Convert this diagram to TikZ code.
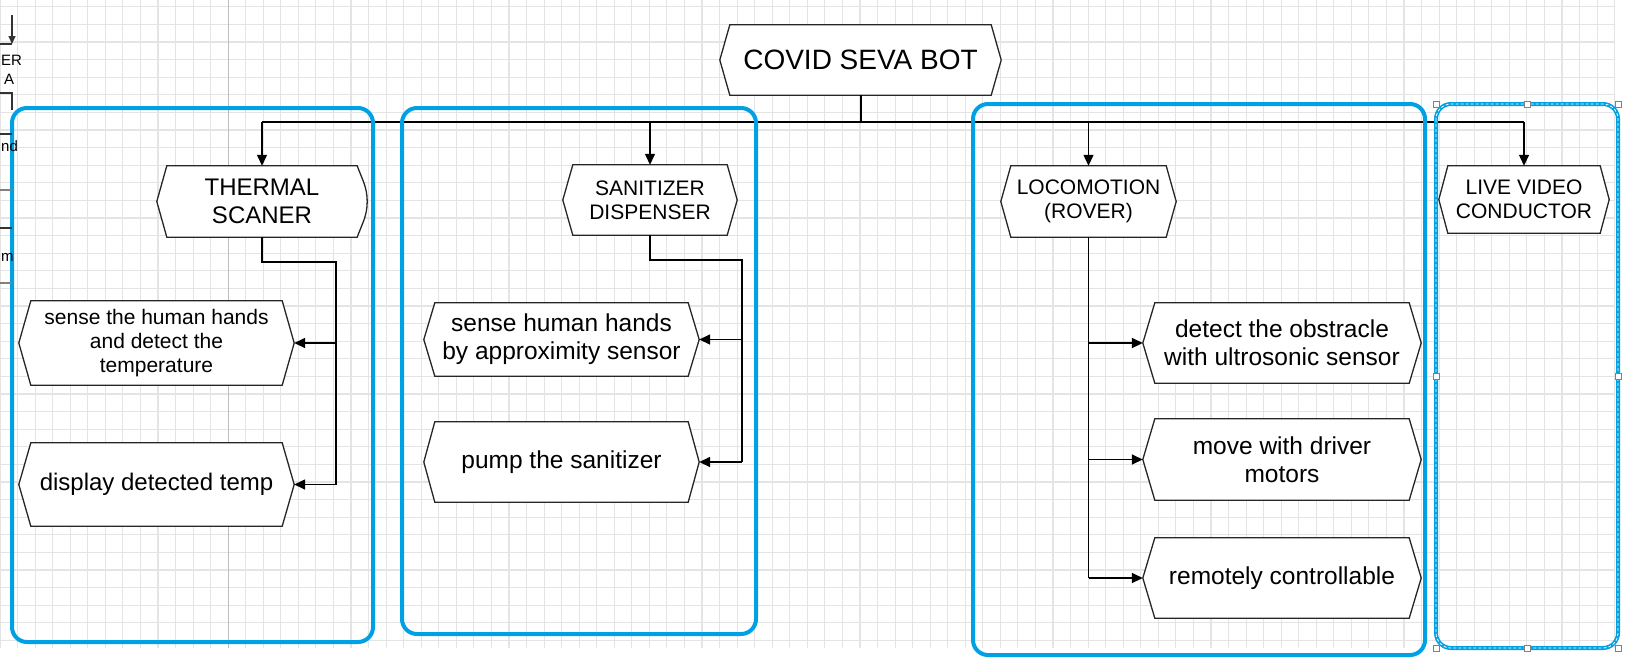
\documentclass[tikz,border=0pt]{standalone}
\usepackage{fontspec}
\setmainfont{Liberation Sans}
\usetikzlibrary{arrows.meta}
\pgfdeclarelayer{gridlayer}
\pgfdeclarelayer{shapelayer}
\pgfsetlayers{gridlayer,shapelayer,main}
\definecolor{bluebox}{RGB}{0,160,228}
\definecolor{gridc}{RGB}{228,228,228}
\definecolor{gridmaj}{RGB}{190,190,190}
\tikzset{
  hexbox/.style={draw=none, inner sep=0pt, align=center, text=black},
  fbig/.style={font=\fontsize{24.5}{28}\selectfont},
  fsmall/.style={font=\fontsize{21}{24}\selectfont},
  ftitle/.style={font=\fontsize{28}{32}\selectfont},
  fmid/.style={font=\fontsize{24}{28}\selectfont},
  ffrag/.style={font=\fontsize{15}{18}\selectfont, inner sep=0pt, anchor=west},
  outline/.style={draw=black!85, fill=white, line width=1.3pt, line join=miter},
  groupbox/.style={draw=bluebox, line width=4pt, rounded corners=15pt},
  conn/.style={draw=black, line width=1.6pt},
  thinconn/.style={draw=black, line width=1.2pt},
  arr/.style={conn, -{Triangle[length=11pt,width=10pt]}},
  fragline/.style={draw=black!80, line width=1.2pt},
  handle/.style={draw=gray, fill=white, line width=0.8pt},
}
\newcommand\hexpath[2]{%
  \draw[outline] (#1.west) -- ([xshift=#2pt]#1.north west) -- ([xshift=-#2pt]#1.north east)
    -- (#1.east) -- ([xshift=-#2pt]#1.south east) -- ([xshift=#2pt]#1.south west) -- cycle;}
\begin{document}
\begin{tikzpicture}[x=1pt, y=-1pt]
\useasboundingbox (0,0) rectangle (1632,670);
\begin{scope}
\clip (0,0) rectangle (1632,670);
% grid
\begin{pgfonlayer}{gridlayer}
  \foreach \i in {0,...,92} \draw[gridc, line width=1.1pt] ({\i*17.55},0) -- ({\i*17.55},648);
  \foreach \j in {0,...,36} \draw[gridc, line width=1.1pt] (0,{6.8+\j*17.6}) -- (1614,{6.8+\j*17.6});
  \draw[gridmaj, line width=1.1pt] (228.2,0) -- (228.2,648);
\end{pgfonlayer}

% nodes
\node[hexbox, ftitle, minimum width=281pt, minimum height=70pt] (title) at (860.5,60) {COVID SEVA BOT};
\node[hexbox, fmid, minimum width=210pt, minimum height=71pt] (thermal) at (262,201.5) {THERMAL\\SCANER};
\node[hexbox, fsmall, minimum width=174pt, minimum height=70pt] (san) at (650,200) {SANITIZER\\DISPENSER};
\node[hexbox, fsmall, minimum width=175pt, minimum height=71pt] (loco) at (1088.5,201.5) {LOCOMOTION\\(ROVER)};
\node[hexbox, fsmall, minimum width=170pt, minimum height=67pt] (live) at (1524,199.5) {LIVE VIDEO\\CONDUCTOR};
\node[hexbox, fsmall, minimum width=275pt, minimum height=84pt] (sense1) at (156.5,343) {sense the human hands\\and detect the\\temperature};
\node[hexbox, fmid, minimum width=275pt, minimum height=83pt] (disp) at (156.5,484.5) {display detected temp};
\node[hexbox, fbig, minimum width=275pt, minimum height=73pt] (sense2) at (561.5,339.5) {sense human hands\\by approximity sensor};
\node[hexbox, fbig, minimum width=275pt, minimum height=80pt] (pump) at (561.5,462) {pump the sanitizer};
\node[hexbox, fbig, minimum width=278pt, minimum height=80pt] (detect) at (1282,343) {detect the obstracle\\with ultrosonic sensor};
\node[hexbox, fbig, minimum width=278pt, minimum height=81pt] (move) at (1282,459.5) {move with driver\\motors};
\node[hexbox, fbig, minimum width=278pt, minimum height=80pt] (remote) at (1282,578) {remotely controllable};

% node outlines
\begin{pgfonlayer}{shapelayer}
  \hexpath{title}{10}
  \draw[outline] (thermal.west) -- ([xshift=10pt]thermal.north west) -- ([xshift=-10pt]thermal.north east)
    to[out=-70,in=90] (thermal.east) to[out=-90,in=70] ([xshift=-10pt]thermal.south east)
    -- ([xshift=10pt]thermal.south west) -- cycle;
  \hexpath{san}{10}
  \hexpath{loco}{10}
  \hexpath{live}{9}
  \hexpath{sense1}{12}
  \hexpath{disp}{12}
  \hexpath{sense2}{11}
  \hexpath{pump}{11}
  \hexpath{detect}{12}
  \hexpath{move}{12}
  \hexpath{remote}{12}
\end{pgfonlayer}

% bus and connectors
\coordinate (busL) at (262,122);
\coordinate (busR) at (1524,122);
\draw[conn, line width=2pt] (title.south) -- (title.south |- busL);
\draw[thinconn] (busL) -- (busR);
\draw[arr, line width=1.3pt] (busL) -- (thermal.north);
\draw[arr, line width=1.3pt] (san.north |- busL) -- (san.north);
\draw[arr, line width=1.3pt] (loco.north |- busL) -- (loco.north);
\draw[arr, line width=1.3pt] (busR) -- (live.north);

\coordinate (tj) at (336,262);
\draw[conn] (thermal.south) |- (tj) -- (tj |- disp.east);
\draw[arr] (tj |- sense1.east) -- (sense1.east);
\draw[arr] (tj |- disp.east) -- (disp.east);

\coordinate (sj) at (742,260);
\draw[conn] (san.south) |- (sj) -- (sj |- pump.east);
\draw[arr] (sj |- sense2.east) -- (sense2.east);
\draw[arr] (sj |- pump.east) -- (pump.east);

\draw[thinconn, line width=1.4pt] (loco.south) -- (loco.south |- remote.west);
\draw[arr] (loco.south |- detect.west) -- (detect.west);
\draw[arr] (loco.south |- move.west) -- (move.west);
\draw[arr] (loco.south |- remote.west) -- (remote.west);

% group frames
\draw[groupbox] (12,108) rectangle (373,642);
\draw[groupbox] (402,108) rectangle (756,634);
\draw[groupbox] (973,104) rectangle (1425,655);
\draw[groupbox] (1436,104) rectangle (1618,648);
\draw[white, line width=0.8pt, dash pattern=on 3pt off 2pt, rounded corners=15pt] (1436,104) rectangle (1618,648);
\foreach \p in {(1436,104),(1527,104),(1618,104),(1618,376),(1618,648),(1527,648),(1436,648),(1436,376)}
  \draw[handle] \p ++(-3,-3) rectangle ++(6,6);

% fragments of a neighbouring drawing at the left edge
\draw[fragline, -{Triangle[length=8pt,width=7pt]}] (12,15) -- (12,44);
\draw[fragline] (-5,44) -- (12,44);
\node[ffrag] (fragA) at (1,60) {ER};
\node[ffrag] (fragB) at (4,79) {A};
\draw[fragline] (-5,93) -- (12,93) -- (12,110);
\draw[fragline] (-5,134) -- (12,134);
\node[ffrag] (fragC) at (1,146) {nd};
\draw[fragline, gray] (-5,190) -- (12,190);
\draw[fragline] (-5,228) -- (12,228);
\node[ffrag] (fragD) at (1,257) {m};
\draw[fragline, gray] (-5,283) -- (12,283);
\end{scope}
\end{tikzpicture}
\end{document}
